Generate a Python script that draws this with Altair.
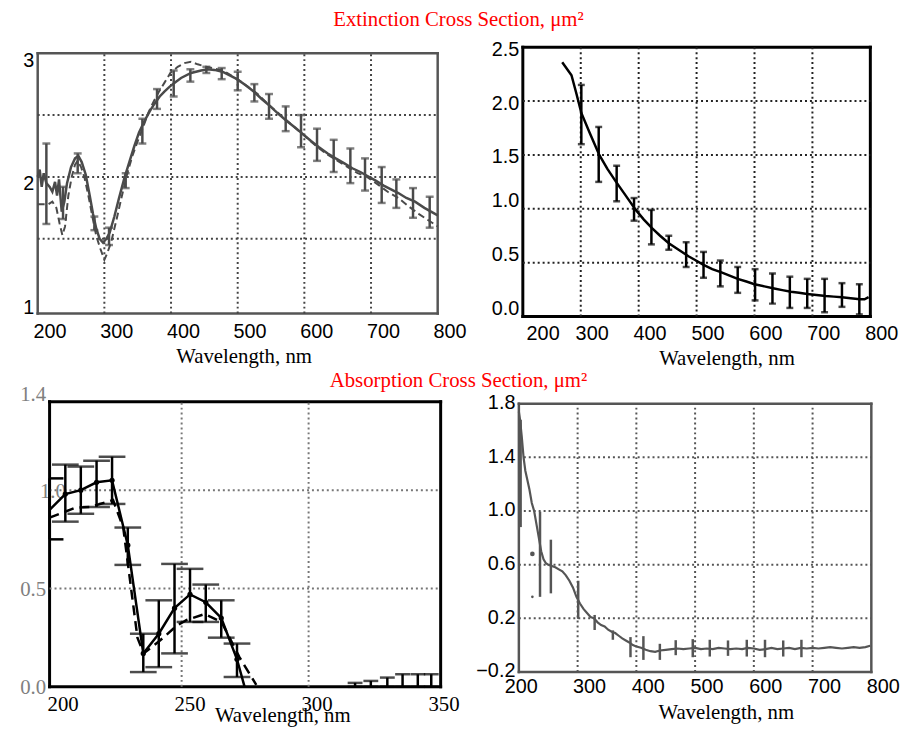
import altair as alt
import pandas as pd

SANS = "Liberation Sans"
SERIF = "Liberation Serif"

title_ext = "Extinction Cross Section, μm²"
title_abs = "Absorption Cross Section, μm²"
axis_title = "Wavelength, nm"

# ---------------- Panel A : extinction (measured solid, model dashed) ----------------
A_lam = [200, 203, 206, 209, 213, 218, 222, 226, 229, 232, 236, 240, 244, 250, 256,
         261, 266, 272, 278, 283, 288, 293, 298, 303, 308, 315, 322, 330, 338, 345,
         352, 360, 368, 375, 383, 390, 398, 405, 415, 430, 445, 455, 465, 477, 488,
         499, 512, 524, 536, 549, 561, 574, 586, 597, 610, 622, 635, 647, 660, 672,
         684, 694, 707, 719, 730, 741, 753, 766, 780, 790, 800]
A_meas = [2.00, 2.06, 1.92, 2.03, 1.95, 1.92, 1.88, 1.96, 1.85, 1.98, 1.72, 1.80, 1.95, 2.08, 2.15,
          2.17, 2.12, 2.02, 1.85, 1.70, 1.58, 1.50, 1.47, 1.50, 1.55, 1.68, 1.83, 1.99, 2.13, 2.25,
          2.36, 2.45, 2.53, 2.59, 2.65, 2.69, 2.73, 2.76, 2.80, 2.84, 2.86, 2.87, 2.865, 2.85, 2.82,
          2.79, 2.74, 2.69, 2.63, 2.57, 2.51, 2.45, 2.40, 2.35, 2.29, 2.24, 2.19, 2.15, 2.11, 2.07,
          2.04, 2.01, 1.97, 1.93, 1.90, 1.87, 1.83, 1.80, 1.75, 1.72, 1.69]
A_dlam = [200, 210, 216, 222, 228, 233, 237, 241, 246, 251, 256, 260, 265, 270, 276,
          282, 288, 294, 298, 300, 304, 310, 318, 326, 334, 342, 350, 358, 366, 374,
          382, 390, 399, 410, 420, 430, 440, 453, 466, 478, 490, 502, 515, 530, 545,
          560, 575, 590, 605, 620, 635, 650, 665, 680, 694, 710, 725, 741, 757, 772,
          786, 800]
A_model = [1.78, 1.78, 1.78, 1.80, 1.75, 1.62, 1.53, 1.60, 1.85, 2.00, 2.10, 2.13, 2.08, 2.00, 1.85,
           1.68, 1.52, 1.42, 1.36, 1.33, 1.38, 1.47, 1.65, 1.84, 2.02, 2.17, 2.29, 2.40, 2.52, 2.61,
           2.69, 2.76, 2.84, 2.89, 2.92, 2.93, 2.91, 2.89, 2.875, 2.86, 2.82, 2.78, 2.73, 2.67, 2.59,
           2.52, 2.45, 2.38, 2.31, 2.24, 2.18, 2.13, 2.08, 2.03, 2.00, 1.94, 1.88, 1.83, 1.76, 1.70,
           1.65, 1.60]
A_elam = [213, 238, 260, 285, 307, 332, 357, 379, 404, 429, 453, 476, 500, 525, 547,
          572, 595, 619, 644, 669, 691, 716, 738, 763, 788]
A_elo = [1.62, 1.66, 2.03, 1.57, 1.45, 1.91, 2.27, 2.55, 2.65, 2.77, 2.84, 2.79, 2.70, 2.61, 2.47,
         2.37, 2.24, 2.13, 2.04, 1.95, 1.89, 1.79, 1.75, 1.67, 1.59]
A_ehi = [2.27, 1.92, 2.19, 1.68, 1.59, 2.03, 2.47, 2.71, 2.86, 2.87, 2.89, 2.88, 2.85, 2.75, 2.67,
         2.57, 2.50, 2.39, 2.30, 2.23, 2.15, 2.08, 1.98, 1.91, 1.84]
A_xticks = [200, 300, 400, 500, 600, 700, 800]
A_yticks = [1, 2, 3]
A_xgrid = [300, 400, 500, 600, 700]
A_ygrid = [1.5, 2.0, 2.5]

# ---------------- Panel B : extinction, second sample ----------------
B_lam = [268, 276, 284, 292, 301, 315, 332, 346, 361, 378, 395, 409, 423, 437, 452,
         469, 486, 499, 512, 527, 543, 557, 571, 586, 600, 617, 634, 648, 663, 677,
         691, 707, 723, 737, 751, 766, 782, 790, 797]
B_val = [2.36, 2.30, 2.24, 2.08, 1.89, 1.71, 1.50, 1.37, 1.25, 1.12, 0.99, 0.90, 0.82, 0.75, 0.68,
         0.62, 0.56, 0.52, 0.48, 0.44, 0.41, 0.38, 0.35, 0.325, 0.30, 0.28, 0.26, 0.245, 0.23, 0.22,
         0.21, 0.20, 0.19, 0.185, 0.18, 0.17, 0.16, 0.16, 0.18]
B_elam = [301, 331, 362, 392, 422, 452, 482, 512, 541, 571, 601, 631, 661, 691, 721, 751, 781]
B_elo = [1.60, 1.25, 1.07, 0.89, 0.67, 0.62, 0.46, 0.36, 0.28, 0.22, 0.15, 0.12, 0.08, 0.08, 0.04, 0.09, 0.02]
B_ehi = [2.15, 1.76, 1.40, 1.10, 0.99, 0.75, 0.69, 0.60, 0.52, 0.46, 0.44, 0.40, 0.37, 0.35, 0.35, 0.31, 0.30]
B_xticks = [200, 300, 400, 500, 600, 700, 800]
B_yticks = [0.0, 0.5, 1.0, 1.5, 2.0, 2.5]
B_xgrid = [300, 400, 500, 600, 700]
B_ygrid = [0.5, 1.0, 1.5, 2.0]

# ---------------- Panel C : absorption, UV range ----------------
C_lam = [198.0, 204.2, 210.3, 216.5, 222.6, 228.8, 234.9, 241.0, 247.2, 253.3, 259.5, 265.6, 271.8, 274.8]
C_meas = [0.90, 0.98, 1.00, 1.04, 1.05, 0.72, 0.17, 0.27, 0.40, 0.47, 0.43, 0.35, 0.14, 0.0]
C_dlam = [198, 208, 214, 223, 227, 232.6, 235, 241, 248, 252, 259, 265.7, 272.8, 279.4]
C_model = [0.86, 0.91, 0.915, 0.95, 0.81, 0.25, 0.17, 0.23, 0.31, 0.34, 0.37, 0.33, 0.15, 0.01]
C_elam = [204.2, 210.3, 216.5, 222.6, 228.8, 234.9, 241.0, 247.2, 253.3, 259.5, 265.6, 271.8]
C_elo = [0.84, 0.88, 0.915, 0.93, 0.62, 0.075, 0.10, 0.17, 0.33, 0.33, 0.25, 0.05]
C_ehi = [1.13, 1.12, 1.15, 1.17, 0.81, 0.27, 0.44, 0.625, 0.60, 0.52, 0.44, 0.22]
C_xlam = [198.0]
C_xlo = [0.75]
C_xhi = [1.06]
C_slam = [318.3, 324.5, 331.0, 337.0, 343.0, 348.3]
C_slo = [0.0, 0.0, 0.0, 0.0, 0.0, 0.0]
C_shi = [0.02, 0.03, 0.047, 0.064, 0.064, 0.064]
C_xticks = [200, 250, 300, 350]
C_yticks = [0.0, 0.5, 1.0, 1.4]
C_xgrid = [250, 300]
C_ygrid = [0.5, 1.0]

# ---------------- Panel D : absorption, full range ----------------
D_lam = [200, 202, 205, 208, 211, 214, 218, 222, 226, 230, 234, 238, 242, 246, 250, 256, 262, 268, 274, 280,
         286, 292, 298, 304, 310, 316, 322, 328, 334, 340, 346, 352, 358, 364, 370, 376, 382, 388, 394, 400,
         408, 416, 424, 432, 440, 450, 460, 470, 480, 490, 500, 510, 520, 530, 540, 550, 560, 570, 580, 590,
         600, 610, 620, 630, 640, 650, 660, 670, 680, 690, 700, 710, 720, 730, 740, 750, 760, 770, 780, 790,
         798]
D_val = [1.74, 1.68, 1.55, 1.40, 1.30, 1.24, 1.16, 1.06, 1.00, 0.90, 0.80, 0.70, 0.64, 0.61, 0.60, 0.59, 0.58, 0.565, 0.55, 0.52,
         0.48, 0.43, 0.36, 0.31, 0.27, 0.24, 0.21, 0.20, 0.17, 0.15, 0.14, 0.115, 0.10, 0.09, 0.07, 0.05, 0.035, 0.02, 0.0, -0.01,
         -0.02, -0.035, -0.045, -0.05, -0.04, -0.035, -0.03, -0.025, -0.03, -0.025, -0.02, -0.03, -0.025, -0.03, -0.02, -0.025, -0.03, -0.025, -0.03, -0.02,
         -0.025, -0.035, -0.03, -0.02, -0.03, -0.025, -0.02, -0.03, -0.02, -0.025, -0.02, -0.025, -0.02, -0.015, -0.02, -0.025, -0.02, -0.015, -0.02, -0.015,
         -0.005]
D_elam = [203, 236, 254.5, 301, 329, 360, 390, 412, 440, 467, 496, 525, 556, 588, 619, 650, 681]
D_elo = [0.88, 0.36, 0.386, 0.196, 0.113, 0.04, -0.09, -0.11, -0.11, -0.075, -0.09, -0.085, -0.08, -0.085, -0.09, -0.085, -0.09]
D_ehi = [1.68, 0.995, 0.786, 0.48, 0.225, 0.11, 0.06, 0.067, 0.01, 0.037, 0.045, 0.04, 0.035, 0.04, 0.04, 0.035, 0.04]
D_dot_lam = [223]
D_dot_val = [0.68]
D_spot_lam = [223]
D_spot_val = [0.36]
D_xticks = [200, 300, 400, 500, 600, 700, 800]
D_yticks = [-0.2, 0.2, 0.6, 1.0, 1.4, 1.8]
D_xgrid = [300, 400, 500, 600, 700]
D_ygrid = [0.2, 0.6, 1.0, 1.4]


# ---------------- helpers ----------------
def sc(dom):
    return alt.Scale(domain=dom, nice=False, zero=False)


def X(field, dom, axis=None):
    if axis is None:
        return alt.X(field, type="quantitative", scale=sc(dom))
    return alt.X(field, type="quantitative", scale=sc(dom), axis=axis)


def Y(field, dom, axis=None):
    if axis is None:
        return alt.Y(field, type="quantitative", scale=sc(dom))
    return alt.Y(field, type="quantitative", scale=sc(dom), axis=axis)


def grid_layers(xg, yg, fx, fy, xdom, ydom, color):
    vx = pd.DataFrame({"g": xg, "a": [fy[0]] * len(xg), "b": [fy[1]] * len(xg)})
    vy = pd.DataFrame({"g": yg, "a": [fx[0]] * len(yg), "b": [fx[1]] * len(yg)})
    style = dict(color=color, strokeWidth=2, strokeDash=[2, 3])
    l1 = alt.Chart(vx).mark_rule(**style).encode(x=X("g", xdom), y=Y("a", ydom), y2="b")
    l2 = alt.Chart(vy).mark_rule(**style).encode(y=Y("g", ydom), x=X("a", xdom), x2="b")
    return [l1, l2]


def frame_layer(fx, fy, xdom, ydom, color, width, xaxis, yaxis):
    df = pd.DataFrame({
        "x": [fx[0], fx[1], fx[0], fx[0]],
        "x2": [fx[0], fx[1], fx[1], fx[1]],
        "y": [fy[0], fy[0], fy[0], fy[1]],
        "y2": [fy[1], fy[1], fy[0], fy[1]],
    })
    return alt.Chart(df).mark_rule(color=color, strokeWidth=width, strokeCap="square").encode(
        x=X("x", xdom, xaxis), x2="x2", y=Y("y", ydom, yaxis), y2="y2")


def xaxis(ticks, font, size, offset, padding, tx, ty):
    return alt.Axis(values=ticks, title=axis_title, grid=False, ticks=False, domain=False,
                    labelFont=font, labelFontSize=size, labelColor="black", labelPadding=padding,
                    labelOffset=offset, labelFlush=False, labelOverlap=False, format="d",
                    titleFont=SERIF, titleFontSize=21, titleFontWeight="normal", titleColor="black",
                    titleX=tx, titleY=ty, titleBaseline="alphabetic", titleAlign="center")


def yaxis(ticks, font, size, color, fmt, offset, axoff, padding=4):
    return alt.Axis(values=ticks, title=None, grid=False, ticks=False, domain=False,
                    labelFont=font, labelFontSize=size, labelColor=color, labelPadding=padding,
                    labelOffset=offset, labelFlush=False, labelOverlap=False, format=fmt,
                    offset=axoff)


def errbars(lam, lo, hi, xdom, ydom, color, cap, width):
    df = pd.DataFrame({"lam": lam, "lo": lo, "hi": hi})
    m = alt.Chart(df).mark_errorbar(ticks=True, size=cap, thickness=width, color=color)
    return m.encode(x=X("lam", xdom), y=Y("lo", ydom), y2="hi")


def line(lam, val, xdom, ydom, color, width, dash=None):
    df = pd.DataFrame({"lam": lam, "v": val})
    if dash:
        mk = alt.Chart(df).mark_line(color=color, strokeWidth=width, strokeDash=dash)
    else:
        mk = alt.Chart(df).mark_line(color=color, strokeWidth=width)
    return mk.encode(x=X("lam", xdom), y=Y("v", ydom))


def title_text(txt, px, py):
    df = pd.DataFrame({"t": [txt]})
    return alt.Chart(df).mark_text(font=SERIF, fontSize=21, color="#ff0000", align="center",
                                   baseline="alphabetic").encode(
        text="t:N", x=alt.value(px), y=alt.value(py))


# ---------------- Panel A ----------------
GA = "#4a4a4a"
A_xdom, A_ydom = [200, 800], [0.896, 3.048]
A_fx, A_fy = [200, 800], [0.896, 3.0]
pA = alt.layer(
    frame_layer(A_fx, A_fy, A_xdom, A_ydom, "#555555", 2.5,
                xaxis(A_xticks, SANS, 20, 12, 8, 208, 49.5),
                yaxis(A_yticks, SANS, 20, "black", "d", 7, 0)),
    *grid_layers(A_xgrid, A_ygrid, A_fx, A_fy, A_xdom, A_ydom, "#444444"),
    line(A_dlam, A_model, A_xdom, A_ydom, GA, 2, dash=[7, 4]),
    line(A_lam, A_meas, A_xdom, A_ydom, GA, 2.5),
    errbars(A_elam, A_elo, A_ehi, A_xdom, A_ydom, GA, 8, 2.5),
    title_text(title_ext, 425, -21),
).properties(width=404, height=269)

# ---------------- Panel B ----------------
B_xdom, B_ydom = [193.16, 800], [0, 2.5]
B_fx, B_fy = [200, 800], [0, 2.5]
B_xoff = {"condition": {"test": "datum.value == 200", "value": 20}, "value": 11}
B_yoff = {"condition": {"test": "datum.value <= 1", "value": -8}, "value": 2}
pB = alt.layer(
    frame_layer(B_fx, B_fy, B_xdom, B_ydom, "black", 3,
                xaxis(B_xticks, SANS, 20, B_xoff, 7.5, 209.7, 48),
                yaxis(B_yticks, SANS, 20, "black", ".1f", B_yoff, -4)),
    *grid_layers(B_xgrid, B_ygrid, B_fx, B_fy, B_xdom, B_ydom, "#222222"),
    line(B_lam, B_val, B_xdom, B_ydom, "black", 2.5),
    errbars(B_elam, B_elo, B_ehi, B_xdom, B_ydom, "black", 7, 2.5),
).properties(width=355, height=272)

# ---------------- Panel C ----------------
C_W = 407
C_xdom, C_ydom = [193.32, 352.0], [0, 1.45]
C_fx, C_fy = [198, 352.0], [0, 1.45]
dots = pd.DataFrame({"lam": C_lam[1:-1], "v": C_meas[1:-1]})
C_yoff = {"condition": {"test": "datum.value > 1.2", "value": -17}, "value": 1}
C_ypad = {"condition": {"test": "datum.value == 1", "value": -16}, "value": 4}
# error bar sitting on the left frame: only the half-cap inside the frame is visible
xb = pd.DataFrame({"lam": C_xlam, "lo": C_xlo, "hi": C_xhi})
xb["end"] = xb["lam"] + 14.0 * (C_xdom[1] - C_xdom[0]) / C_W
xb_rule = alt.Chart(xb).mark_rule(color="black", strokeWidth=2.5)
pC = alt.layer(
    frame_layer(C_fx, C_fy, C_xdom, C_ydom, "black", 3,
                xaxis(C_xticks, SERIF, 21, 8, 7.2, 247, 35),
                yaxis(C_yticks, SERIF, 21, "#808080", ".1f", C_yoff, -12, C_ypad)),
    *grid_layers(C_xgrid, C_ygrid, C_fx, C_fy, C_xdom, C_ydom, "#777777"),
    line(C_dlam, C_model, C_xdom, C_ydom, "black", 2.5, dash=[10, 6]),
    line(C_lam, C_meas, C_xdom, C_ydom, "black", 2.5),
    alt.Chart(dots).mark_point(filled=True, color="black", size=28, opacity=1).encode(
        x=X("lam", C_xdom), y=Y("v", C_ydom)),
    errbars(C_elam, C_elo, C_ehi, C_xdom, C_ydom, "black", 27, 2.5),
    xb_rule.encode(x=X("lam", C_xdom), y=Y("lo", C_ydom), y2="hi"),
    xb_rule.encode(x=X("lam", C_xdom), x2="end", y=Y("lo", C_ydom)),
    xb_rule.encode(x=X("lam", C_xdom), x2="end", y=Y("hi", C_ydom)),
    errbars(C_slam, C_slo, C_shi, C_xdom, C_ydom, "black", 15, 2.5),
    title_text(title_abs, 425, -15),
).properties(width=C_W, height=288)

# ---------------- Panel D ----------------
GD = "#555555"
D_xdom, D_ydom = [200, 800], [-0.2, 1.8147]
D_fx, D_fy = [200, 800], [-0.2, 1.8]
D_xoff = {"condition": {"test": "datum.value == 200", "value": 2}, "value": 11.5}
D_err = pd.DataFrame({"lam": D_elam, "lo": D_elo, "hi": D_ehi})
pD = alt.layer(
    frame_layer(D_fx, D_fy, D_xdom, D_ydom, "#555555", 2.5,
                xaxis(D_xticks, SANS, 20, D_xoff, 5.2, 209, 47.5),
                yaxis(D_yticks, SANS, 20, "black", ".1f", -1, 0)),
    *grid_layers(D_xgrid, D_ygrid, D_fx, D_fy, D_xdom, D_ydom, "#555555"),
    line(D_lam, D_val, D_xdom, D_ydom, GD, 2.2),
    alt.Chart(D_err).mark_rule(color=GD, strokeWidth=2.5).encode(
        x=X("lam", D_xdom), y=Y("lo", D_ydom), y2="hi"),
    alt.Chart(pd.DataFrame({"lam": D_dot_lam, "v": D_dot_val})).mark_point(
        filled=True, color=GD, size=22, opacity=1).encode(x=X("lam", D_xdom), y=Y("v", D_ydom)),
    alt.Chart(pd.DataFrame({"lam": D_spot_lam, "v": D_spot_val})).mark_point(
        filled=True, color=GD, size=7, opacity=1).encode(x=X("lam", D_xdom), y=Y("v", D_ydom)),
).properties(width=356, height=273)

chart = alt.concat(
    pA, pB, pC, pD, columns=2, spacing={"row": 86, "column": 79}, bounds="flush", align="each"
).properties(
    padding={"left": 11, "top": -2, "right": 4, "bottom": 4}, background="white"
).configure_view(stroke=None)

chart.save("out.html", embed_options={"renderer": "svg", "actions": False})
